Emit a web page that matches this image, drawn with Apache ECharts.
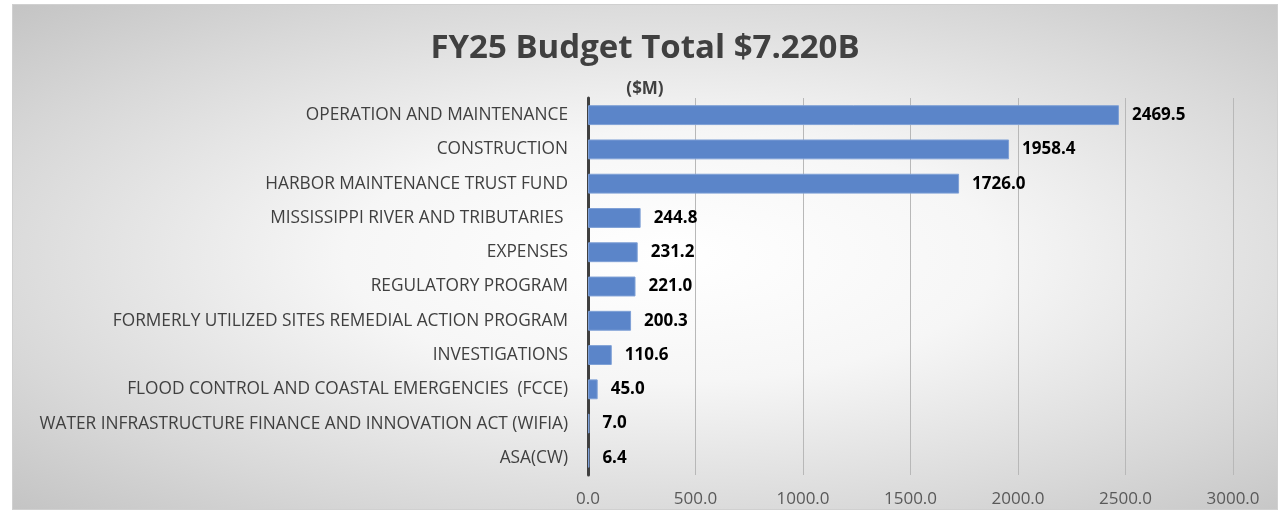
<!DOCTYPE html>
<html>
<head>
<meta charset="utf-8">
<script src="https://cdn.jsdelivr.net/npm/echarts@6/dist/echarts.min.js"></script>
<style>
  html, body { margin: 0; padding: 0; background: #ffffff; }
  #chart {
    position: absolute; left: 12px; top: 4px; width: 1264px; height: 504px;
    border: 1px solid #d0d0d0;
    background: radial-gradient(ellipse farthest-corner at 52% 50%, #ffffff 0%, #f6f6f6 35%, #d8d8d8 75%, #c4c4c4 100%);
  }
</style>
</head>
<body>
<div id="chart"></div>
<script>
// 分类 (从上到下)
const categories = [
  'OPERATION AND MAINTENANCE',
  'CONSTRUCTION',
  'HARBOR MAINTENANCE TRUST FUND',
  'MISSISSIPPI RIVER AND TRIBUTARIES ',
  'EXPENSES',
  'REGULATORY PROGRAM',
  'FORMERLY UTILIZED SITES REMEDIAL ACTION PROGRAM',
  'INVESTIGATIONS',
  'FLOOD CONTROL AND COASTAL EMERGENCIES  (FCCE)',
  'WATER INFRASTRUCTURE FINANCE AND INNOVATION ACT (WIFIA)',
  'ASA(CW)'
];
// 金额 ($M)
const values = [2469.5, 1958.4, 1726.0, 244.8, 231.2, 221.0, 200.3, 110.6, 45.0, 7.0, 6.4];

const font = "'Open Sans', sans-serif";

const chart = echarts.init(document.getElementById('chart'));

const options = {
  title: [
    {
      text: 'FY25 Budget Total $7.220B',
      left: 'center',
      top: 22,
      textStyle: { fontFamily: font, fontSize: 33, fontWeight: 'bold', color: '#404040' }
    },
    {
      text: '($M)',
      left: 'center',
      top: 71,
      textStyle: { fontFamily: font, fontSize: 17, fontWeight: 'bold', color: '#404040' }
    }
  ],
  grid: { left: 575, right: 44, top: 93, bottom: 34 },
  xAxis: {
    type: 'value',
    min: 0,
    max: 3000,
    interval: 500,
    axisLine: { show: false },
    axisTick: { show: false },
    splitLine: { lineStyle: { color: '#b8b8b8', width: 1 } },
    axisLabel: {
      margin: 16,
      color: '#595959',
      fontFamily: font,
      fontSize: 17,
      formatter: (v) => v.toFixed(1)
    }
  },
  yAxis: {
    type: 'category',
    inverse: true,
    data: categories,
    axisLine: { lineStyle: { color: '#404040', width: 3 } },
    axisTick: { show: false },
    axisLabel: { margin: 20, color: '#404040', fontFamily: font, fontSize: 17.3 }
  },
  series: [
    {
      type: 'bar',
      data: values,
      barCategoryGap: '42%',
      itemStyle: { color: '#5b85c9', borderColor: '#7fa0d6', borderWidth: 1 },
      label: {
        show: true,
        position: 'right',
        distance: 13,
        color: '#000000',
        fontFamily: font,
        fontWeight: 'bold',
        fontSize: 17,
        formatter: (p) => p.value.toFixed(1)
      }
    }
  ]
};

chart.setOption(options);
</script>
</body>
</html>
